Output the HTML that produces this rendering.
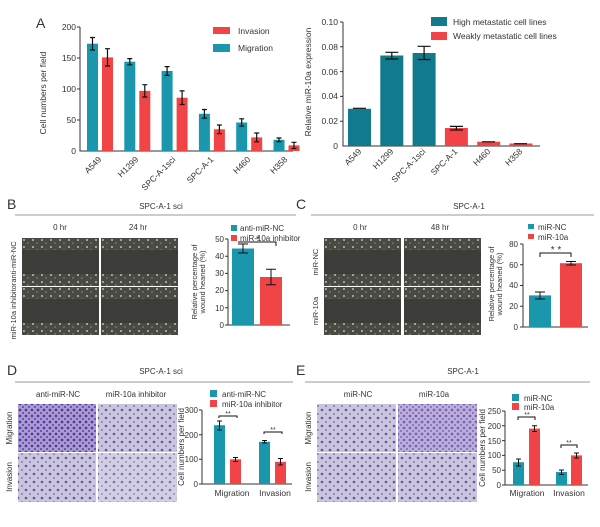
<!DOCTYPE html>
<html><head><meta charset="utf-8"><style>body{margin:0;background:#fff}svg{display:block}text{font-family:"Liberation Sans",sans-serif;fill:#333}</style></head><body>
<svg width="600" height="527" viewBox="0 0 600 527" xmlns="http://www.w3.org/2000/svg">
<defs>
<pattern id="wd" width="9" height="7" patternUnits="userSpaceOnUse"><rect width="9" height="7" fill="#4a4a44"/><circle cx="2" cy="2" r="1" fill="#bdbdb3"/><circle cx="6" cy="5" r="0.8" fill="#8d8d85"/></pattern>
<pattern id="tw" width="8" height="8" patternUnits="userSpaceOnUse"><rect width="8" height="8" fill="#c9c6dc"/><circle cx="2" cy="2" r="1.3" fill="#6a4fb0"/><circle cx="6" cy="6" r="1" fill="#8d75c6"/></pattern>
<pattern id="tw2" width="6" height="6" patternUnits="userSpaceOnUse"><rect width="6" height="6" fill="#a99cd0"/><circle cx="2" cy="2" r="1.4" fill="#5a3aa6"/><circle cx="5" cy="5" r="1.1" fill="#6c4db2"/></pattern>
<g id="wound"><rect width="77" height="48" fill="#3c3c38"/><rect width="77" height="12" fill="url(#wd)"/><rect y="36" width="77" height="12" fill="url(#wd)"/></g>
</defs>
<!-- Panel A left -->
<text x="36" y="28" font-size="14" fill="#222">A</text>
<g font-size="8.5" text-anchor="end">
<text x="76" y="30">200</text><text x="76" y="61">150</text><text x="76" y="92">100</text><text x="76" y="123">50</text><text x="76" y="154">0</text></g>
<path d="M80 27V151H293M77 27H80M77 58H80M77 89H80M77 120H80" stroke="#333" fill="none"/>
<text transform="translate(46 93) rotate(-90)" font-size="8.5" text-anchor="middle">Cell numbers per field</text>
<g>
<rect x="87" y="43.7" width="11" height="107.3" fill="#1a97ad"/><rect x="102" y="57.4" width="11" height="93.6" fill="#f04446"/>
<rect x="124.3" y="61.7" width="11" height="89.3" fill="#1a97ad"/><rect x="139.3" y="90.9" width="11" height="60.1" fill="#f04446"/>
<rect x="161.6" y="71" width="11" height="80" fill="#1a97ad"/><rect x="176.6" y="97.7" width="11" height="53.3" fill="#f04446"/>
<rect x="198.9" y="113.8" width="11" height="37.2" fill="#1a97ad"/><rect x="213.9" y="129.3" width="11" height="21.7" fill="#f04446"/>
<rect x="236.2" y="122.5" width="11" height="28.5" fill="#1a97ad"/><rect x="251.2" y="137.4" width="11" height="13.6" fill="#f04446"/>
<rect x="273.5" y="139.8" width="11" height="11.2" fill="#1a97ad"/><rect x="288.5" y="145.4" width="11" height="5.6" fill="#f04446"/>
</g>
<g stroke="#111" stroke-width="1.2" fill="none">
<path d="M92.5 37.5V50M90 37.5H95M90 50H95"/><path d="M107.5 48.7V66M105 48.7H110M105 66H110"/>
<path d="M129.8 58.6V64.8M127.3 58.6H132.3M127.3 64.8H132.3"/><path d="M144.8 84.7V97M142.3 84.7H147.3M142.3 97H147.3"/>
<path d="M167.1 66.6V75.4M164.6 66.6H169.6M164.6 75.4H169.6"/><path d="M182.1 90.9V104.5M179.6 90.9H184.6M179.6 104.5H184.6"/>
<path d="M204.4 109.5V118.1M201.9 109.5H206.9M201.9 118.1H206.9"/><path d="M219.4 125V133.6M216.9 125H221.9M216.9 133.6H221.9"/>
<path d="M241.7 118.8V126.2M239.2 118.8H244.2M239.2 126.2H244.2"/><path d="M256.7 133V141.8M254.2 133H259.2M254.2 141.8H259.2"/>
<path d="M279 138V141.6M276.5 138H281.5M276.5 141.6H281.5"/><path d="M294 142.3V148.5M291.5 142.3H296.5M291.5 148.5H296.5"/>
</g>
<g font-size="8.5" text-anchor="end">
<text transform="translate(102 160) rotate(-45)">A549</text><text transform="translate(139 160) rotate(-45)">H1299</text><text transform="translate(176 160) rotate(-45)">SPC-A-1sci</text><text transform="translate(214 160) rotate(-45)">SPC-A-1</text><text transform="translate(251 160) rotate(-45)">H460</text><text transform="translate(288 160) rotate(-45)">H358</text></g>
<rect x="213" y="27" width="17" height="7" fill="#f04446"/><text x="238" y="34" font-size="8.5">Invasion</text>
<rect x="213" y="44" width="17" height="8" fill="#1a97ad"/><text x="238" y="51" font-size="8.5">Migration</text>
<!-- Panel A right -->
<path d="M343 22V146H540M340 22H343M340 46.8H343M340 71.6H343M340 96.4H343M340 121.2H343" stroke="#333" fill="none"/>
<g font-size="8.5" text-anchor="end"><text x="338" y="25">0.10</text><text x="338" y="50">0.08</text><text x="338" y="75">0.06</text><text x="338" y="99">0.04</text><text x="338" y="124">0.02</text><text x="338" y="149">0</text></g>
<text transform="translate(311 82) rotate(-90)" font-size="8.5" text-anchor="middle">Relative miR-10a expression</text>
<rect x="348" y="108.8" width="23" height="37.2" fill="#117a8c"/>
<rect x="380.3" y="55.5" width="23" height="90.5" fill="#117a8c"/>
<rect x="412.6" y="53" width="23" height="93" fill="#117a8c"/>
<rect x="444.9" y="128" width="23" height="18" fill="#f04446"/>
<rect x="477.2" y="141.7" width="23" height="4.3" fill="#f04446"/>
<rect x="509.5" y="143.5" width="23" height="2.5" fill="#f04446"/>
<g stroke="#111" stroke-width="1.2" fill="none">
<path d="M353 108.3H366"/><path d="M391.8 52.3V59M385.3 52.3H398.3M385.3 59H398.3"/><path d="M424.1 46.3V59.5M417.6 46.3H430.6M417.6 59.5H430.6"/>
<path d="M456.4 126.4V130M449.9 126.4H462.9M449.9 130H462.9"/><path d="M482 141.8H495"/><path d="M514 143.7H527"/></g>
<g font-size="8.5" text-anchor="end">
<text transform="translate(362 152) rotate(-45)">A549</text><text transform="translate(394 152) rotate(-45)">H1299</text><text transform="translate(426 152) rotate(-45)">SPC-A-1sci</text><text transform="translate(458 152) rotate(-45)">SPC-A-1</text><text transform="translate(491 152) rotate(-45)">H460</text><text transform="translate(523 152) rotate(-45)">H358</text></g>
<rect x="431" y="17" width="16" height="9" fill="#117a8c"/><text x="453" y="25" font-size="8.5">High metastatic cell lines</text>
<rect x="431" y="32" width="16" height="8" fill="#f04446"/><text x="453" y="39" font-size="8.5">Weakly metastatic cell lines</text>
<!-- Panel B -->
<text x="7" y="209" font-size="14" fill="#222">B</text>
<text x="161" y="209" font-size="8" text-anchor="middle">SPC-A-1 sci</text>
<path d="M15 215H296" stroke="#999"/>
<text x="60" y="230" font-size="8" text-anchor="middle">0 hr</text><text x="138" y="230" font-size="8" text-anchor="middle">24 hr</text>
<use href="#wound" x="22" y="238"/><use href="#wound" x="101" y="238"/><use href="#wound" x="22" y="287"/><use href="#wound" x="101" y="287"/>
<text transform="translate(16 262) rotate(-90)" font-size="7.5" text-anchor="middle">anti-miR-NC</text>
<text transform="translate(16 311) rotate(-90)" font-size="7.5" text-anchor="middle">miR-10a inhibitor</text>
<rect x="231" y="225" width="6" height="6" fill="#1a97ad"/><text x="240" y="231" font-size="8">anti-miR-NC</text>
<rect x="231" y="235" width="6" height="6" fill="#f04446"/><text x="240" y="241" font-size="8">miR-10a inhibitor</text>
<path d="M228 239V325H290M225 239H228M225 256.2H228M225 273.4H228M225 290.6H228M225 307.8H228M225 325H228" stroke="#333" fill="none"/>
<g font-size="8" text-anchor="end"><text x="224" y="242">50</text><text x="224" y="259">40</text><text x="224" y="276">30</text><text x="224" y="293">20</text><text x="224" y="311">10</text><text x="224" y="328">0</text></g>
<text transform="translate(197 282) rotate(-90)" font-size="7.5" text-anchor="middle">Relative percentage of</text>
<text transform="translate(205 282) rotate(-90)" font-size="7.5" text-anchor="middle">wound heaned (%)</text>
<rect x="232" y="248.5" width="22" height="76.5" fill="#1a97ad"/><rect x="260" y="277" width="22" height="48" fill="#f04446"/>
<g stroke="#111" fill="none"><path d="M243 244V253M238 244H248M238 253H248"/><path d="M271 269.3V284.7M266 269.3H276M266 284.7H276"/><path d="M238 242H276V246"/></g>
<text x="258" y="243" font-size="11" text-anchor="middle">*</text>
<!-- Panel C -->
<text x="296" y="209" font-size="14" fill="#222">C</text>
<text x="469" y="209" font-size="8" text-anchor="middle">SPC-A-1</text>
<path d="M311 215H594" stroke="#999"/>
<text x="360" y="230" font-size="8" text-anchor="middle">0 hr</text><text x="440" y="230" font-size="8" text-anchor="middle">48 hr</text>
<use href="#wound" x="324" y="238"/><use href="#wound" x="404" y="238"/><use href="#wound" x="324" y="287"/><use href="#wound" x="404" y="287"/>
<text transform="translate(318 262) rotate(-90)" font-size="7.5" text-anchor="middle">miR-NC</text>
<text transform="translate(318 311) rotate(-90)" font-size="7.5" text-anchor="middle">miR-10a</text>
<rect x="528" y="224" width="6" height="5" fill="#1a97ad"/><text x="538" y="230" font-size="8">miR-NC</text>
<rect x="528" y="234" width="6" height="5" fill="#f04446"/><text x="538" y="240" font-size="8">miR-10a</text>
<path d="M523 244V327H588M520 244H523M520 264.75H523M520 285.5H523M520 306.25H523M520 327H523" stroke="#333" fill="none"/>
<g font-size="8" text-anchor="end"><text x="518" y="247">80</text><text x="518" y="268">60</text><text x="518" y="288">40</text><text x="518" y="309">20</text><text x="518" y="330">0</text></g>
<text transform="translate(494 284) rotate(-90)" font-size="7.5" text-anchor="middle">Relative percentage of</text>
<text transform="translate(502 284) rotate(-90)" font-size="7.5" text-anchor="middle">wound heaned (%)</text>
<rect x="529" y="295.4" width="22" height="31.6" fill="#1a97ad"/><rect x="560" y="263.2" width="22" height="63.8" fill="#f04446"/>
<g stroke="#111" fill="none"><path d="M540 292V299M535 292H545M535 299H545"/><path d="M571 261.5V265M566 261.5H576M566 265H576"/><path d="M540 257V253H571V257"/></g>
<text x="556" y="253" font-size="10" text-anchor="middle">* *</text>
<!-- Panel D -->
<text x="7" y="375" font-size="14" fill="#222">D</text>
<text x="161" y="374" font-size="8" text-anchor="middle">SPC-A-1 sci</text>
<path d="M15 382H293" stroke="#999"/>
<text x="58" y="397" font-size="8" text-anchor="middle">anti-miR-NC</text><text x="136" y="397" font-size="8" text-anchor="middle">miR-10a inhibitor</text>
<rect x="18" y="404" width="78" height="48" fill="url(#tw2)"/><rect x="98" y="404" width="79" height="48" fill="url(#tw)"/>
<rect x="18" y="453" width="78" height="49" fill="url(#tw)"/><rect x="98" y="453" width="79" height="49" fill="url(#tw)" opacity="0.85"/>
<text transform="translate(12 428) rotate(-90)" font-size="8" text-anchor="middle">Migration</text>
<text transform="translate(12 477) rotate(-90)" font-size="8" text-anchor="middle">Invasion</text>
<rect x="210" y="390" width="7" height="7" fill="#1a97ad"/><text x="222" y="397" font-size="8">anti-miR-NC</text>
<rect x="210" y="400" width="7" height="7" fill="#f04446"/><text x="222" y="407" font-size="8">miR-10a inhibitor</text>
<path d="M202 410V484H292M199 410H202M199 434.7H202M199 459.3H202M199 484H202" stroke="#333" fill="none"/>
<g font-size="8" text-anchor="end"><text x="198" y="413">300</text><text x="198" y="438">200</text><text x="198" y="462">100</text><text x="198" y="487">0</text></g>
<text transform="translate(184 447) rotate(-90)" font-size="8" text-anchor="middle">Cell numbers per field</text>
<rect x="214" y="425.2" width="11" height="58.8" fill="#1a97ad"/><rect x="230" y="459.3" width="11" height="24.7" fill="#f04446"/>
<rect x="259" y="441.8" width="11" height="42.2" fill="#1a97ad"/><rect x="275" y="461.8" width="11" height="22.2" fill="#f04446"/>
<g stroke="#111" fill="none"><path d="M219.5 421V430M217 421H222M217 430H222"/><path d="M235.5 457.5V461.5M233 457.5H238M233 461.5H238"/><path d="M264.5 440.5V443M262 440.5H267M262 443H267"/><path d="M280.5 458.5V465M278 458.5H283M278 465H283"/>
<path d="M219 418V416H237V418"/><path d="M264 434V432H282V434"/></g>
<text x="228" y="416" font-size="7" text-anchor="middle">**</text><text x="273" y="432" font-size="7" text-anchor="middle">**</text>
<text x="232" y="496" font-size="8.5" text-anchor="middle">Migration</text><text x="275" y="496" font-size="8.5" text-anchor="middle">Invasion</text>
<!-- Panel E -->
<text x="296" y="375" font-size="14" fill="#222">E</text>
<text x="463" y="374" font-size="8" text-anchor="middle">SPC-A-1</text>
<path d="M305 382H590" stroke="#999"/>
<text x="358" y="397" font-size="8" text-anchor="middle">miR-NC</text><text x="434" y="397" font-size="8" text-anchor="middle">miR-10a</text>
<rect x="317" y="404" width="79" height="48" fill="url(#tw)"/><rect x="398" y="404" width="79" height="48" fill="url(#tw2)" opacity="0.8"/>
<rect x="317" y="453" width="79" height="49" fill="url(#tw)"/><rect x="398" y="453" width="79" height="49" fill="url(#tw)"/>
<text transform="translate(311 428) rotate(-90)" font-size="8" text-anchor="middle">Migration</text>
<text transform="translate(311 477) rotate(-90)" font-size="8" text-anchor="middle">Invasion</text>
<rect x="512" y="394" width="7" height="7" fill="#1a97ad"/><text x="524" y="401" font-size="8">miR-NC</text>
<rect x="512" y="403" width="7" height="7" fill="#f04446"/><text x="524" y="410" font-size="8">miR-10a</text>
<path d="M505 411V485H588M502 411H505M502 425.8H505M502 440.6H505M502 455.4H505M502 470.2H505M502 485H505" stroke="#333" fill="none"/>
<g font-size="8" text-anchor="end"><text x="501" y="414">250</text><text x="501" y="429">200</text><text x="501" y="444">150</text><text x="501" y="458">100</text><text x="501" y="473">50</text><text x="501" y="488">0</text></g>
<text transform="translate(485 448) rotate(-90)" font-size="8" text-anchor="middle">Cell numbers per field</text>
<rect x="513" y="462.2" width="11" height="22.8" fill="#1a97ad"/><rect x="529" y="428.6" width="11" height="56.4" fill="#f04446"/>
<rect x="556" y="472" width="11" height="13" fill="#1a97ad"/><rect x="571" y="455.4" width="11" height="29.6" fill="#f04446"/>
<g stroke="#111" fill="none"><path d="M518.5 459V466M516 459H521M516 466H521"/><path d="M534.5 425.7V431.5M532 425.7H537M532 431.5H537"/><path d="M561.5 470V474.5M559 470H564M559 474.5H564"/><path d="M576.5 453V458M574 453H579M574 458H579"/>
<path d="M518 420V417H535V420"/><path d="M561 448V445H577V448"/></g>
<text x="527" y="417" font-size="7" text-anchor="middle">**</text><text x="569" y="445" font-size="7" text-anchor="middle">**</text>
<text x="527" y="496" font-size="8.5" text-anchor="middle">Migration</text><text x="569" y="496" font-size="8.5" text-anchor="middle">Invasion</text>
</svg>
</body></html>
